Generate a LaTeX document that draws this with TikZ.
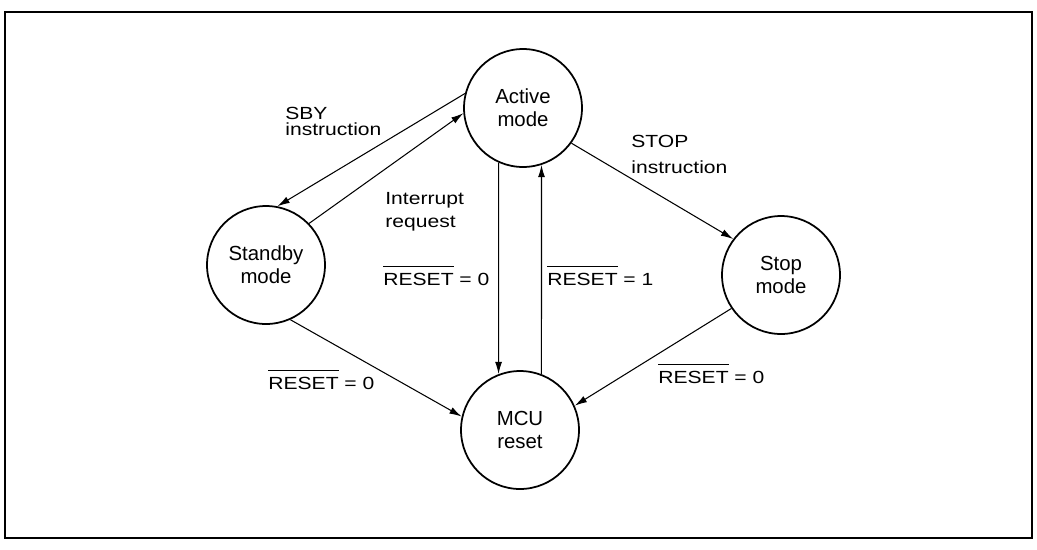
\documentclass[tikz,border=0pt]{standalone}
\usepackage{fontspec}
\setmainfont{Liberation Sans}
\newfontfamily\lblfont[FakeStretch=1.2]{Liberation Sans}
\usepackage{tikz}
\usetikzlibrary{arrows.meta}
\newcommand{\nreset}{\setbox0\hbox{RESET}\rlap{\rule[\dimexpr\ht0+3.5pt\relax]{\wd0}{0.6pt}}\box0}

\begin{document}
\begin{tikzpicture}[x=0.02cm, y=-0.02cm,
    state/.style={circle, draw, line width=1pt, minimum size=2.36cm, inner sep=0pt, align=center, font=\fontsize{11.6}{13}\selectfont},
    lbl/.style={inner sep=0pt, align=left, font=\lblfont\fontsize{10}{13}\selectfont},
    arrow/.style={-{Latex[length=7pt,width=4pt]}, line width=0.6pt}
]
\useasboundingbox (0,0) rectangle (1037,549);
\draw[line width=0.9pt] (5,12) rectangle (1032,538);

% states
\node[state] (active) at (523,108) {Active\\mode};
\node[state] (standby) at (266,265) {Standby\\mode};
\node[state] (stop) at (781,275) {Stop\\mode};
\node[state] (mcu) at (520,430) {MCU\\reset};

% transitions
\draw[arrow] (active.166) -- (standby.79);
\draw[arrow] (standby.44) -- (active.185);
\draw[arrow] (active.324) -- (stop.143);
\draw[arrow] (active.246) -- (mcu.111);
\draw[arrow] (mcu.69) -- (active.288);
\draw[arrow] (standby.294) -- (mcu.167);
\draw[arrow] (stop.214) -- (mcu.24);

% labels
\node[lbl, anchor=north west] (sby) at (285,107) {SBY\\[-4.2pt]instruction};
\node[lbl, anchor=north west] (irq) at (385,192) {Interrupt\\request};
\node[lbl, anchor=north west] (stp) at (631,135) {STOP\\[2pt]instruction};
\node[lbl, anchor=base west] (rst0a) at (383,285) {\nreset{} = 0};
\node[lbl, anchor=base west] (rst1) at (547,285) {\nreset{} = 1};
\node[lbl, anchor=base west] (rst0b) at (268,389) {\nreset{} = 0};
\node[lbl, anchor=base west] (rst0c) at (658,383) {\nreset{} = 0};

\end{tikzpicture}
\end{document}
